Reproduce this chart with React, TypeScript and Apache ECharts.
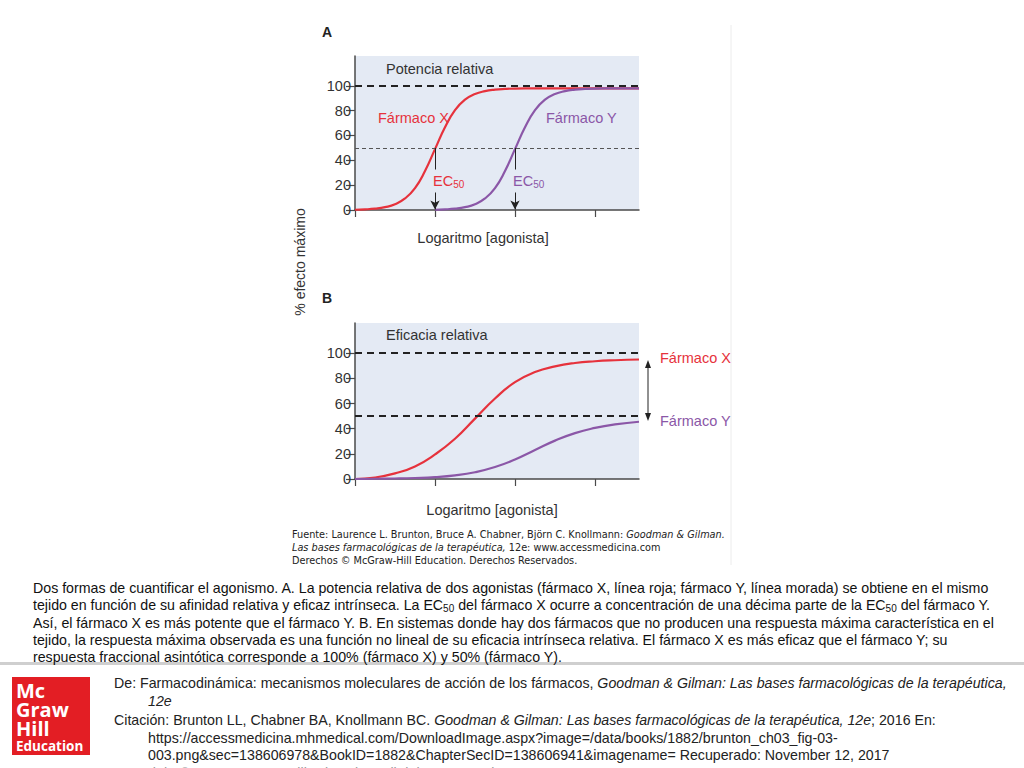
import React, { useEffect, useRef } from "react";
import * as echarts from "echarts";

// ---------- data ----------
const yTicks = [0, 20, 40, 60, 80, 100];
const xTicks = [0, 1, 2, 3];

// Panel A (potency)
const aRedX = [0, 0.125, 0.25, 0.375, 0.5, 0.625, 0.75, 0.875, 1, 1.125, 1.25, 1.375, 1.5, 1.625, 1.75, 1.875, 2, 2.25, 2.5, 3, 3.55];
const aRedY = [0.2, 0.5, 1.1, 2.3, 4.6, 9.3, 17.6, 31.4, 49, 66.6, 80.4, 88.8, 93.4, 95.7, 96.9, 97.5, 97.8, 97.9, 98, 98, 98];
const aPurX = [1, 1.125, 1.25, 1.375, 1.5, 1.625, 1.75, 1.875, 2, 2.125, 2.25, 2.375, 2.5, 2.625, 2.75, 2.875, 3, 3.25, 3.55];
const aPurY = [0.2, 0.5, 1.1, 2.3, 4.6, 9.3, 17.6, 31.4, 49, 66.6, 80.4, 88.8, 93.4, 95.7, 96.9, 97.5, 97.8, 97.9, 98];
const aEc50 = [1, 2];

// Panel B (efficacy)
const bX = [0, 0.25, 0.5, 0.75, 1, 1.25, 1.5, 1.75, 2, 2.25, 2.5, 2.75, 3, 3.25, 3.55];
const bRedY = [0, 1.2, 4.5, 10, 19.5, 32, 48, 64, 77, 85, 89.5, 92.2, 93.6, 94.4, 95];
const bPurY = [0, 0.2, 0.4, 0.8, 1.5, 2.9, 5.4, 9.5, 15.5, 23, 30.5, 36.5, 40.6, 43.4, 45.5];

const captionLines = [
  "Dos formas de cuantificar el agonismo. A. La potencia relativa de dos agonistas (fármaco X, línea roja; fármaco Y, línea morada) se obtiene en el mismo",
  "tejido en función de su afinidad relativa y eficaz intrínseca. La EC{s|50} del fármaco X ocurre a concentración de una décima parte de la EC{s|50} del fármaco Y.",
  "Así, el fármaco X es más potente que el fármaco Y. B. En sistemas donde hay dos fármacos que no producen una respuesta máxima característica en el",
  "tejido, la respuesta máxima observada es una función no lineal de su eficacia intrínseca relativa. El fármaco X es más eficaz que el fármaco Y; su",
  "respuesta fraccional asintótica corresponde a 100% (fármaco X) y 50% (fármaco Y).",
];

const sourceLines = [
  "Fuente: Laurence L. Brunton, Bruce A. Chabner, Björn C. Knollmann: {i|Goodman & Gilman.}",
  "{i|Las bases farmacológicas de la terapéutica,} 12e: www.accessmedicina.com",
  "Derechos © McGraw-Hill Education. Derechos Reservados.",
];

const footerLines = [
  { x: 114, y: 683, t: "De: Farmacodinámica: mecanismos moleculares de acción de los fármacos, {i|Goodman & Gilman: Las bases farmacológicas de la terapéutica,}" },
  { x: 148, y: 701, t: "{i|12e}" },
  { x: 114, y: 720, t: "Citación: Brunton LL, Chabner BA, Knollmann BC. {i|Goodman & Gilman: Las bases farmacológicas de la terapéutica, 12e}; 2016 En:" },
  { x: 148, y: 738, t: "https://accessmedicina.mhmedical.com/DownloadImage.aspx?image=/data/books/1882/brunton_ch03_fig-03-" },
  { x: 148, y: 755, t: "003.png&sec=138606978&BookID=1882&ChapterSecID=138606941&imagename= Recuperado: November 12, 2017" },
];

// ---------- styles ----------
const FONT = '"Liberation Sans", Arial, sans-serif';
const RED = "#e6323c";
const PURPLE = "#8b57a7";
const SHADE = "#e4eaf4";
const AXIS = "#4a4a4a";
const TEXT = "#333";

const pairs = (xs: number[], ys: number[]) => xs.map((x, i) => [x, ys[i]]);

function yAxis(gridIndex: number) {
  return {
    gridIndex,
    type: "value",
    min: 0,
    max: 124,
    splitLine: { show: false },
    axisLine: { show: true, lineStyle: { color: AXIS, width: 1.5 } },
    axisTick: { show: true, length: 9, customValues: yTicks, lineStyle: { color: AXIS, width: 1.2 } },
    axisLabel: { customValues: yTicks, fontSize: 14.5, fontFamily: FONT, color: TEXT, margin: 4 },
  };
}
function xAxis(gridIndex: number) {
  return {
    gridIndex,
    type: "value",
    min: 0,
    max: 3.55,
    splitLine: { show: false },
    axisLine: { show: true, onZero: false, lineStyle: { color: AXIS, width: 1.5 } },
    axisTick: { show: true, length: 7, customValues: xTicks, lineStyle: { color: AXIS, width: 1.2 } },
    axisLabel: { show: false },
  };
}

function curve(name: string, xi: number, data: number[][], color: string, extra: any = {}) {
  return {
    name,
    type: "line",
    xAxisIndex: xi,
    yAxisIndex: xi,
    data,
    smooth: 0.5,
    showSymbol: false,
    silent: true,
    lineStyle: { color, width: 2.2 },
    z: 3,
    ...extra,
  };
}

const dashBold = { type: [7, 5], width: 2, color: "#222" };
const dashThin = { type: [4, 3], width: 1, color: "#555" };

function buildOption(): any {
  const graphic: any[] = [];
  const txt = (x: number, y: number, text: string, style: any = {}, extra: any = {}) =>
    graphic.push({
      type: "text",
      x,
      y,
      z: 100,
      ...extra,
      style: {
        text,
        fontFamily: FONT,
        fontSize: 14.5,
        fill: TEXT,
        align: "left",
        verticalAlign: "middle",
        ...style,
      },
    });

  // faint image border
  graphic.push({ type: "line", shape: { x1: 731, y1: 25, x2: 731, y2: 565 }, style: { stroke: "#ececec", lineWidth: 1 } });

  // panel letters and titles
  txt(322, 32, "A", { fontWeight: "bold", fontSize: 14, fill: "#222" });
  txt(322, 298, "B", { fontWeight: "bold", fontSize: 14, fill: "#222" });
  txt(386, 69, "Potencia relativa");
  txt(386, 335, "Eficacia relativa");
  txt(300, 262, "% efecto máximo", { align: "center", fontSize: 14 }, { rotation: Math.PI / 2 });
  txt(483, 238, "Logaritmo [agonista]", { align: "center" });
  txt(492, 510, "Logaritmo [agonista]", { align: "center" });

  // curve labels panel A
  txt(378, 118, "Fármaco X", { fill: RED });
  txt(546, 118, "Fármaco Y", { fill: PURPLE });
  const sub = { fontSize: 10, lineHeight: 8, verticalAlign: "bottom", fontFamily: FONT };
  txt(432, 181, "EC{s|50}", { fill: RED, backgroundColor: SHADE, padding: [3, 1, 3, 1], lineHeight: 17, rich: { s: { ...sub, fill: RED } } });
  txt(512, 181, "EC{s|50}", { fill: PURPLE, backgroundColor: SHADE, padding: [3, 1, 3, 1], lineHeight: 17, rich: { s: { ...sub, fill: PURPLE } } });

  // panel B side labels and arrow
  txt(660, 358, "Fármaco X", { fill: RED, fontSize: 14.5 });
  txt(660, 421, "Fármaco Y", { fill: PURPLE, fontSize: 14.5 });
  graphic.push({ type: "line", shape: { x1: 648, y1: 364, x2: 648, y2: 417 }, style: { stroke: "#222", lineWidth: 1 } });
  graphic.push({ type: "polygon", shape: { points: [[648, 360], [645, 368], [651, 368]] }, style: { fill: "#222" } });
  graphic.push({ type: "polygon", shape: { points: [[648, 421], [645, 413], [651, 413]] }, style: { fill: "#222" } });

  // source text
  const srcFont = '"DejaVu Sans Condensed", "DejaVu Sans", sans-serif';
  sourceLines.forEach((t, i) =>
    txt(292, 534 + i * 13, t, { fontFamily: srcFont, fontSize: 10.8, fill: "#222", rich: { i: { fontStyle: "italic", fontFamily: srcFont, fontSize: 10.8, fill: "#222" } } })
  );

  // caption
  captionLines.forEach((t, i) =>
    txt(33, 588 + i * 17.3, t, {
      fontSize: 14.2,
      fill: "#111",
      lineHeight: 17,
      rich: { s: { fontFamily: FONT, fontSize: 10, lineHeight: 8, verticalAlign: "bottom", fill: "#111" } },
    })
  );

  // divider
  graphic.push({ type: "rect", shape: { x: 0, y: 662, width: 1024, height: 3 }, style: { fill: "#cfcfcf" } });

  // logo
  graphic.push({ type: "rect", shape: { x: 12, y: 677, width: 78, height: 78 }, style: { fill: "#e31e24" } });
  const logoFont = '"Open Sans", "Liberation Sans", sans-serif';
  txt(16, 680.5, "Mc\nGraw\nHill\n{e|Education}", {
    fontFamily: logoFont,
    fontWeight: "bold",
    fontSize: 20,
    lineHeight: 19,
    fill: "#fff",
    verticalAlign: "top",
    rich: { e: { fontFamily: logoFont, fontWeight: "bold", fontSize: 13.5, lineHeight: 17, fill: "#fff" } },
  });

  // footer
  footerLines.forEach((f) =>
    txt(f.x, f.y, f.t, { fontSize: 14.2, fill: "#222", rich: { i: { fontStyle: "italic", fontFamily: FONT, fontSize: 14.2, fill: "#222" } } })
  );
  txt(115, 773, "Copyright © 2017 McGraw-Hill Education. All rights reserved.", { fontSize: 14.2, fill: "#999" });

  return {
    animation: false,
    backgroundColor: "#fff",
    grid: [
      { left: 355, top: 56, width: 284, height: 154, show: true, backgroundColor: SHADE, borderWidth: 0 },
      { left: 355, top: 323, width: 284, height: 156, show: true, backgroundColor: SHADE, borderWidth: 0 },
    ],
    xAxis: [xAxis(0), xAxis(1)],
    yAxis: [yAxis(0), yAxis(1)],
    series: [
      curve("Fármaco X (A)", 0, pairs(aRedX, aRedY), RED, {
        markLine: {
          silent: true,
          symbol: "none",
          label: { show: false },
          data: [
            { yAxis: 100, lineStyle: dashBold },
            { yAxis: 50, lineStyle: dashThin },
          ],
        },
      }),
      curve("Fármaco Y (A)", 0, pairs(aPurX, aPurY), PURPLE, {
        markLine: {
          silent: true,
          symbol: ["none", "arrow"],
          symbolSize: [7, 9],
          label: { show: false },
          lineStyle: { color: "#222", width: 1, type: "solid" },
          data: aEc50.map((x) => [{ coord: [x, 50] }, { coord: [x, 0.5] }]),
        },
      }),
      curve("Fármaco X (B)", 1, pairs(bX, bRedY), RED, {
        markLine: {
          silent: true,
          symbol: "none",
          label: { show: false },
          data: [
            { yAxis: 100, lineStyle: dashBold },
            { yAxis: 50, lineStyle: dashBold },
          ],
        },
      }),
      curve("Fármaco Y (B)", 1, pairs(bX, bPurY), PURPLE),
    ],
    graphic,
  };
}

export default function App() {
  const ref = useRef<HTMLDivElement>(null);
  useEffect(() => {
    document.body.style.margin = "0";
    const chart = echarts.init(ref.current!, null, { renderer: "svg" });
    chart.setOption(buildOption());
    return () => chart.dispose();
  }, []);
  return <div ref={ref} style={{ width: 1024, height: 768, background: "#fff" }} />;
}
